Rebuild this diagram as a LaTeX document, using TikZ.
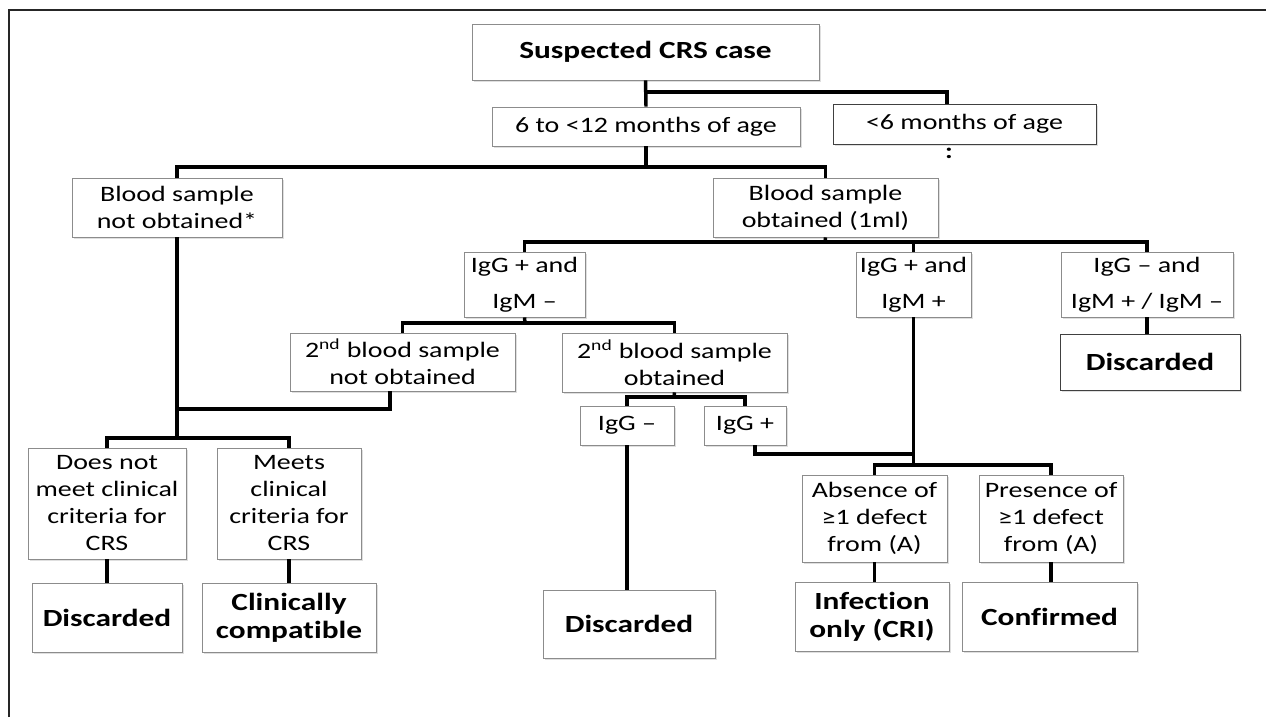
\documentclass[tikz,border=0pt]{standalone}
\usepackage{fontspec}
\setmainfont{Carlito}[FakeStretch=1.27, Ligatures=NoCommon]
\usetikzlibrary{shadows}
\begin{document}
\begin{tikzpicture}[x=0.75pt,y=-0.75pt,
  bx/.style={draw=black!45, line width=0.6pt, fill=white, inner sep=0pt, align=center,
    font=\fontsize{16.5}{20.25}\selectfont,
    drop shadow={shadow xshift=1.2pt, shadow yshift=-1.2pt, opacity=0.25}},
  bbx/.style={bx, font=\bfseries\fontsize{18.5}{21}\selectfont},
  dk/.style={draw=black!75},
  sz/.style 2 args={minimum width=#1*0.75pt, minimum height=#2*0.75pt},
  conn/.style={line width=2.6pt, line join=miter, black}]
\useasboundingbox (0,0) rectangle (1266,717);
\fill[white] (0,0) rectangle (1266,717);
\draw[line width=1.3pt, black!85] (9,717) -- (9,10) -- (1266,10);

% boxes
\node[bbx, sz={347}{56}] (susp) at (645.5,52) {Suspected CRS case};
\node[bx, sz={308}{39}] (six) at (646,126.5) {6 to <12 months of age};
\node[bx, dk, sz={263}{40}] (lt6) at (964.5,124) {<6 months of age};
\node[font=\bfseries\fontsize{16.5}{20}\selectfont, inner sep=0pt] (dots) at (949,153) {:};
\node[bx, sz={210}{59}] (bno) at (177,207.5) {Blood sample\\not obtained*};
\node[bx, sz={225}{59}] (bo) at (825.5,207.5) {Blood sample\\obtained (1ml)};
\node[bx, sz={121}{65}] (igA) at (524.5,284.5) {IgG + and\\[7pt]IgM –};
\node[bx, sz={115}{65}] (igB) at (913.5,284.5) {IgG + and\\[7pt]IgM +};
\node[bx, sz={172}{65}] (igC) at (1147,284.5) {IgG – and\\[7pt]IgM + / IgM –};
\node[bbx, dk, sz={180}{56}] (discR) at (1150,362) {Discarded};
\node[bx, sz={225}{58}] (bn2) at (402.5,362) {2\textsuperscript{nd} blood sample\\not obtained};
\node[bx, sz={225}{59}] (bo2) at (674.5,362.5) {2\textsuperscript{nd} blood sample\\obtained};
\node[bx, sz={94}{39}] (igm) at (627,425.5) {IgG –};
\node[bx, sz={82}{39}] (igp) at (745,425.5) {IgG +};
\node[bx, sz={158}{111}] (dnm) at (107,503.5) {Does not\\meet clinical\\criteria for\\CRS};
\node[bx, sz={144}{111}] (meets) at (289,503.5) {Meets\\clinical\\criteria for\\CRS};
\node[bbx, sz={150}{69}] (discL) at (107,617.5) {Discarded};
\node[bbx, sz={174}{69}] (cc) at (289,617.5) {Clinically\\compatible};
\node[bbx, sz={172}{68}] (discM) at (629,624) {Discarded};
\node[bx, sz={145}{87}] (abs) at (874.5,518.5) {Absence of\\≥1 defect\\from (A)};
\node[bx, sz={144}{87}] (pres) at (1051,518.5) {Presence of\\≥1 defect\\from (A)};
\node[bbx, sz={154}{69}] (inf) at (872,616.5) {Infection\\only (CRI)};
\node[bbx, sz={175}{69}] (conf) at (1049.5,616.5) {Confirmed};

% junctions
\coordinate (j1) at (646,92);
\coordinate (lt6in) at (947,104);
\coordinate (j2) at (646,167);
\coordinate (j3) at (825,242);
\coordinate (j4) at (525,323);
\coordinate (bn2out) at (390,391);
\coordinate (j5) at (177,409);
\coordinate (j6) at (177,438);
\coordinate (j7) at (674,397);
\coordinate (igpout) at (755,445);
\coordinate (j8) at (913.5,454);
\coordinate (j9) at (913.5,465);

% connectors
\draw[conn] (susp.south) -- (six.north);
\draw[conn] (j1) -| (lt6in);
\draw[conn] (six.south) -- (j2);
\draw[conn] (bno.north) |- (j2) -| (bo.north);
\draw[conn] (bo.south) -- (j3);
\draw[conn] (igA.north) |- (j3) -| (igC.north);
\draw[conn] (igB.north) -- (igB.north |- j3);
\draw[conn] (igC.south) -- (igC.south |- discR.north);
\draw[conn] (igA.south) -- (j4);
\draw[conn] (bn2.north) |- (j4) -| (bo2.north);
\draw[conn] (bn2out) |- (j5);
\draw[conn] (bno.south) -- (j6);
\draw[conn] (dnm.north) |- (j6) -| (meets.north);
\draw[conn] (dnm.south) -- (discL.north);
\draw[conn] (meets.south) -- (cc.north);
\draw[conn] (bo2.south) -- (j7);
\draw[conn] (igm.north) |- (j7) -| (igp.north);
\draw[conn] (igm.south) -- (igm.south |- discM.north);
\draw[conn] (igpout) |- (j8);
\draw[conn] (igB.south) -- (j9);
\draw[conn] (abs.north) |- (j9) -| (pres.north);
\draw[conn] (abs.south) -- (abs.south |- inf.north);
\draw[conn] (pres.south) -- (pres.south |- conf.north);
\end{tikzpicture}
\end{document}
